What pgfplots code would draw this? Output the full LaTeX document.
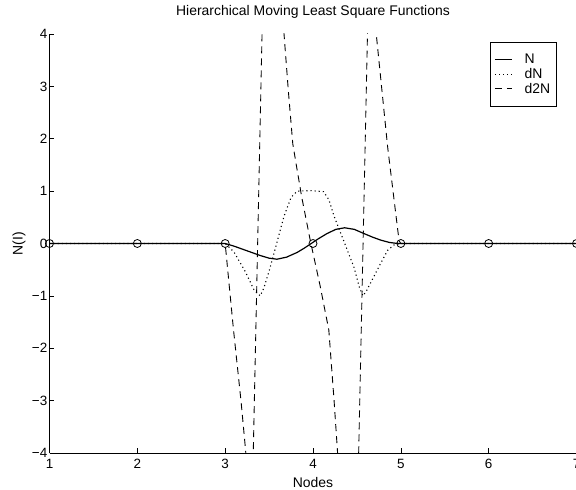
\documentclass[border=0pt]{standalone}
\usepackage{fontspec}
\setmainfont{Liberation Sans}
\usepackage{pgfplots}
\pgfplotsset{compat=1.18}
\begin{document}
\begin{tikzpicture}
\begin{axis}[
  scale only axis, width=527bp, height=419bp,
  xmin=1, xmax=7, ymin=-4, ymax=4,
  axis x line*=bottom, axis y line*=left,
  axis line style={-, line width=0.8bp},
  xtick={1,2,3,4,5,6,7}, ytick={-4,-3,-2,-1,0,1,2,3,4},
  xticklabels={1,2,3,4,5,6,7},
  yticklabels={−4,−3,−2,−1,0,1,2,3,4},
  tick align=inside, major tick length=5bp,
  tick style={black, line width=0.6bp},
  ticklabel style={font=\fontsize{13.5}{16}\selectfont},
  xticklabel style={inner sep=2bp, yshift=-4bp},
  yticklabel style={inner sep=2bp},
  title={Hierarchical Moving Least Square Functions},
  title style={font=\fontsize{14}{16}\selectfont, at={(axis description cs:0.5,1.031)}, anchor=base},
  xlabel={Nodes},
  xlabel style={font=\fontsize{14}{16}\selectfont, at={(axis description cs:0.5,-0.083)}, anchor=base},
  ylabel={N(I)},
  ylabel style={font=\fontsize{14}{16}\selectfont, at={(axis description cs:-0.058,0.5)}, anchor=center},
  legend style={at={(axis description cs:0.962,0.981)}, anchor=north east, draw=black, line width=0.8bp,
    font=\fontsize{14}{15}\selectfont, cells={anchor=west}, row sep=-1bp, column sep=10bp, inner xsep=4bp, inner ysep=10bp},
  legend cell align=left,
]
\addplot[black, line width=1.2bp] coordinates {
(1,0)(3,0)(3.1,-0.05)(3.2,-0.11)(3.3,-0.17)(3.4,-0.23)(3.5,-0.28)(3.59,-0.30)(3.7,-0.26)(3.82,-0.17)(3.9,-0.09)(3.98,0)(4.07,0.1)(4.16,0.19)(4.26,0.27)(4.36,0.30)(4.47,0.27)(4.58,0.19)(4.68,0.12)(4.77,0.065)(4.87,0.02)(4.94,0.005)(5,0)(7,0)};
\addlegendentry{N}
\addplot[black, line width=1.1bp, dash pattern=on 1.1bp off 3bp] coordinates {
(1,0)(3,0)(3.1,-0.16)(3.23,-0.54)(3.33,-0.89)(3.40,-1.0)(3.44,-0.85)(3.5,-0.53)(3.57,-0.1)(3.67,0.52)(3.75,0.88)(3.82,1.0)(3.97,1.01)(4.12,0.99)(4.18,0.84)(4.24,0.52)(4.35,0.05)(4.47,-0.47)(4.53,-0.85)(4.57,-1.0)(4.61,-0.9)(4.69,-0.64)(4.77,-0.38)(4.85,-0.13)(4.92,-0.03)(5,0)(7,0)};
\addlegendentry{dN}
\addplot[black, line width=0.9bp, dash pattern=on 7bp off 5bp] coordinates {
(1,0)(3,0)(3.095,-1.65)(3.18,-3.0)(3.23,-3.9)(3.27,-4.7)(3.30,-5.2)(3.31,-5.0)(3.32,-4.0)(3.37,0)(3.42,4.0)(3.47,6)(3.55,6.8)(3.62,6)(3.67,4.0)(3.72,2.9)(3.77,1.9)(3.87,0.9)(3.97,0.05)(4.08,-0.8)(4.18,-1.65)(4.24,-3.0)(4.28,-4.0)(4.33,-5.5)(4.42,-6)(4.49,-5.5)(4.52,-4.0)(4.57,0)(4.62,4.0)(4.67,5)(4.72,4.0)(4.85,1.84)(4.98,0.05)(5,0)(7,0)};
\addlegendentry{d2N}
\addplot[black, only marks, mark=o, mark size=4bp, line width=0.8bp, forget plot] coordinates {
(1,0)(2,0)(3,0)(4,0)(5,0)(6,0)(7,0)};
\end{axis}
\pgfresetboundingbox
\path[use as bounding box] (-49.5bp,-37bp) rectangle (526.5bp,453bp);
\end{tikzpicture}
\end{document}
